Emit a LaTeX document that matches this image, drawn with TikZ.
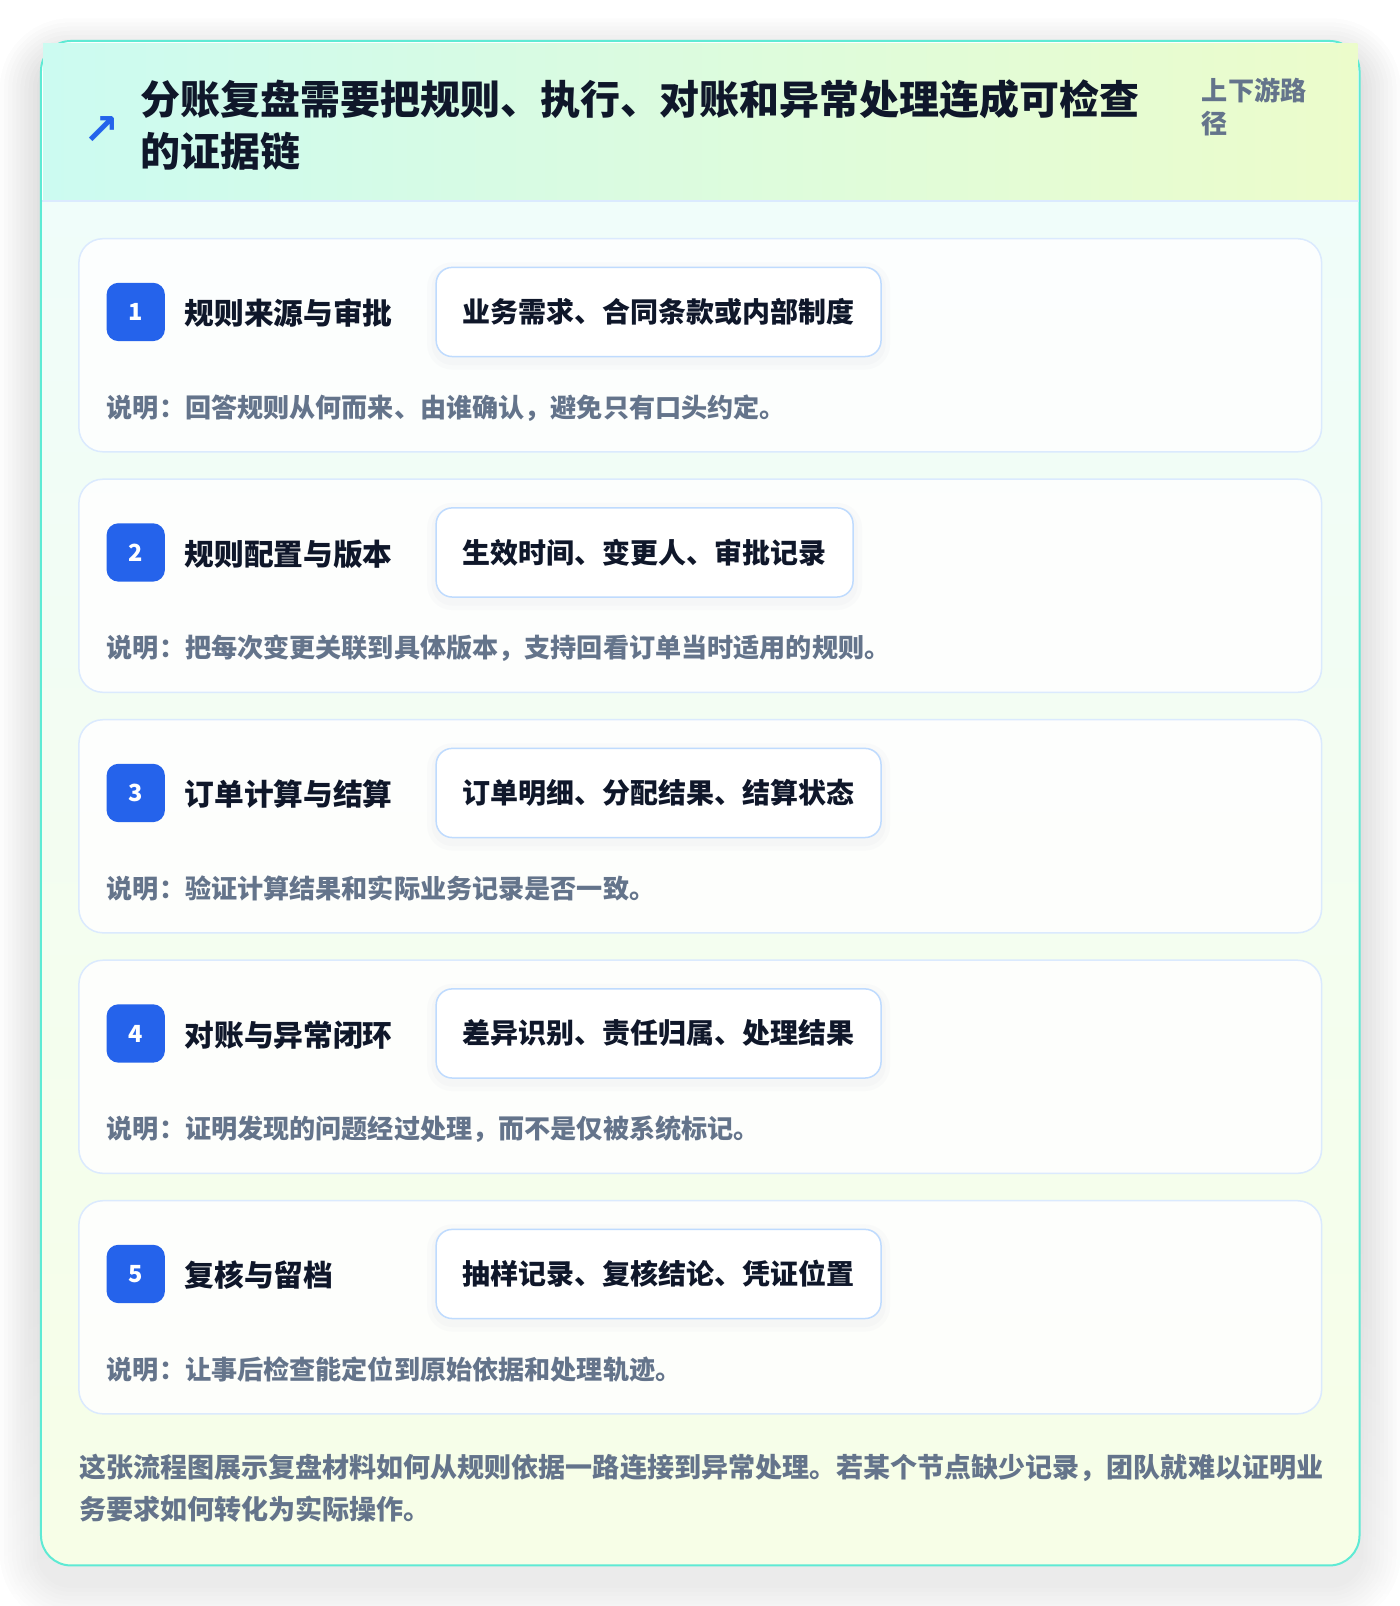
\documentclass[tikz,border=0pt]{standalone}
\usepackage{fontspec}
\setmainfont{Noto Sans CJK SC}
\newfontfamily\symfont{DejaVu Sans}
\usepackage{tikz}
\definecolor{rim}{HTML}{5EEAD4}
\definecolor{hdleft}{HTML}{CCFBF1}
\definecolor{hdright}{HTML}{ECFCCB}
\definecolor{bodytop}{HTML}{F0FDFA}
\definecolor{bodybot}{HTML}{F7FEE7}
\definecolor{cardline}{HTML}{DBEAFE}
\definecolor{pillline}{HTML}{BFDBFE}
\definecolor{badgeblue}{HTML}{2563EB}
\definecolor{ink}{HTML}{0F172A}
\definecolor{muted}{HTML}{64748B}
\definecolor{shade}{HTML}{94A3B8}
\tikzstyle{card} = [draw=cardline, line width=1.5pt, fill=white, fill opacity=0.85, rounded corners=24pt, minimum width=1213pt, minimum height=208pt]
\tikzstyle{badge} = [fill=badgeblue, rounded corners=12pt, minimum size=57pt, inner sep=0pt, text=white, font={\fontsize{23}{26}\selectfont\bfseries}]
\tikzstyle{steptitle} = [anchor=west, inner sep=0pt, text=ink, font={\fontsize{29}{34}\selectfont\bfseries}]
\tikzstyle{pill} = [anchor=west, draw=pillline, line width=1.5pt, fill=white, rounded corners=16pt, minimum height=87pt, inner xsep=26pt, text=ink, font={\fontsize{27.3}{32}\selectfont\bfseries},
  preaction={draw=shade, draw opacity=0.035, line width=18pt, transform canvas={yshift=-4pt}},
  preaction={draw=shade, draw opacity=0.04, line width=9pt, transform canvas={yshift=-4pt}}]
\tikzstyle{note} = [anchor=west, inner sep=0pt, text=muted, font={\fontsize{25.5}{30}\selectfont\bfseries}]
\tikzstyle{icon} = [text=badgeblue, inner sep=0pt, font={\symfont\fontsize{42}{42}\selectfont\bfseries}]

\begin{document}
\begin{tikzpicture}[x=1pt,y=-1pt,scale=1.0245,transform shape]
    \useasboundingbox (0,0) rectangle (1366.5,1567.6);
    \fill[white] (0,0) rectangle (1366.5,1567.6);
    % frame with soft shadow
    \foreach \s in {4,8,...,40}
      \fill[shade, fill opacity=0.009, rounded corners=30pt+\s pt] (40-\s,40-\s+18) rectangle (1327+\s,1528+\s+18);
    \fill[white, rounded corners=30pt] (40,40) rectangle (1327,1528);
    \begin{scope}
      \clip[rounded corners=30pt] (40,40) rectangle (1327,1528);
      \shade[top color=bodytop, bottom color=bodybot] (40,196) rectangle (1327,1528);
    \end{scope}
    \draw[rim, line width=2pt, rounded corners=30pt] (40,40) rectangle (1327,1528);
    \shade[left color=hdleft, right color=hdright] (42,42) rectangle (1325,196);
    \draw[cardline, line width=1.5pt] (41,196) -- (1326,196);
    % header
    \node[icon](arrow) at (99,127){↗};
    \node[anchor=west, align=left, inner sep=0pt, text=ink, font={\fontsize{39}{51.5}\selectfont\bfseries}](title) at (137,122){分账复盘需要把规则、执行、对账和异常处理连成可检查\\的证据链};
    \node[anchor=west, align=left, inner sep=0pt, text=muted, font={\fontsize{25.5}{32}\selectfont\bfseries}](side) at (1173,104){上下游路\\径};
    % step 1
    \node[card](c1) at (683.5,337){};
    \node[badge](b1) at (132.5,304.5){1};
    \node[steptitle](t1) at (180,306){规则来源与审批};
    \node[pill](p1) at (425,304.5){业务需求、合同条款或内部制度};
    \node[note](n1) at (104,398){说明：回答规则从何而来、由谁确认，避免只有口头约定。};
    % step 2
    \node[card](c2) at (683.5,571.75){};
    \node[badge](b2) at (132.5,539.25){2};
    \node[steptitle](t2) at (180,540.75){规则配置与版本};
    \node[pill](p2) at (425,539.25){生效时间、变更人、审批记录};
    \node[note](n2) at (104,632.75){说明：把每次变更关联到具体版本，支持回看订单当时适用的规则。};
    % step 3
    \node[card](c3) at (683.5,806.5){};
    \node[badge](b3) at (132.5,774){3};
    \node[steptitle](t3) at (180,775.5){订单计算与结算};
    \node[pill](p3) at (425,774){订单明细、分配结果、结算状态};
    \node[note](n3) at (104,867.5){说明：验证计算结果和实际业务记录是否一致。};
    % step 4
    \node[card](c4) at (683.5,1041.25){};
    \node[badge](b4) at (132.5,1008.75){4};
    \node[steptitle](t4) at (180,1010.25){对账与异常闭环};
    \node[pill](p4) at (425,1008.75){差异识别、责任归属、处理结果};
    \node[note](n4) at (104,1102.25){说明：证明发现的问题经过处理，而不是仅被系统标记。};
    % step 5
    \node[card](c5) at (683.5,1276){};
    \node[badge](b5) at (132.5,1243.5){5};
    \node[steptitle](t5) at (180,1245){复核与留档};
    \node[pill](p5) at (425,1243.5){抽样记录、复核结论、凭证位置};
    \node[note](n5) at (104,1337){说明：让事后检查能定位到原始依据和处理轨迹。};
    % footer
    \node[anchor=west, align=left, inner sep=0pt, text=muted, font={\fontsize{26.4}{41}\selectfont\bfseries}](foot) at (77,1452.5){这张流程图展示复盘材料如何从规则依据一路连接到异常处理。若某个节点缺少记录，团队就难以证明业\\务要求如何转化为实际操作。};
  \end{tikzpicture}
\end{document}
